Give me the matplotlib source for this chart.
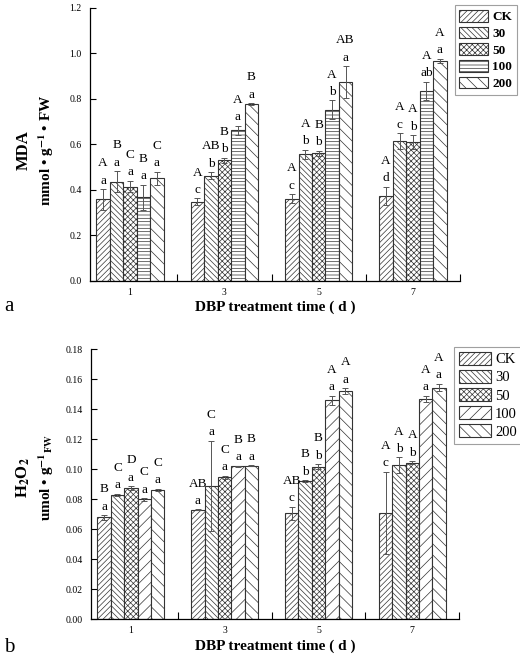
import numpy as np
import matplotlib.pyplot as plt
from matplotlib.ticker import FixedLocator

plt.rcParams['font.family'] = ['Liberation Serif', 'DejaVu Serif']
plt.rcParams['mathtext.fontset'] = 'stix'
plt.rcParams['hatch.linewidth'] = 0.5

# datos
days = ['1', '3', '5', '7']
treatments = ['CK', '30', '50', '100', '200']

mda_mean = [[0.358, 0.436, 0.414, 0.367, 0.450],
            [0.347, 0.462, 0.530, 0.662, 0.776],
            [0.360, 0.556, 0.560, 0.753, 0.873],
            [0.373, 0.613, 0.610, 0.835, 0.966]]
mda_err = [[0.045, 0.045, 0.025, 0.055, 0.030],
           [0.015, 0.015, 0.010, 0.020, 0.005],
           [0.020, 0.020, 0.012, 0.040, 0.070],
           [0.040, 0.035, 0.030, 0.040, 0.010]]
mda_low = [['a', 'a', 'a', 'a', 'a'],
           ['c', 'b', 'b', 'a', 'a'],
           ['c', 'b', 'b', 'b', 'a'],
           ['d', 'c', 'b', 'ab', 'a']]
mda_up = [['A', 'B', 'C', 'B', 'C'],
          ['A', 'AB', 'B', 'A', 'B'],
          ['A', 'A', 'B', 'A', 'AB'],
          ['A', 'A', 'A', 'A', 'A']]

h2o2_mean = [[0.068, 0.083, 0.0875, 0.080, 0.0864],
             [0.073, 0.089, 0.0948, 0.102, 0.1025],
             [0.0707, 0.0922, 0.1018, 0.146, 0.152],
             [0.071, 0.1029, 0.1044, 0.147, 0.1545]]
h2o2_err = [[0.0015, 0.0007, 0.0012, 0.0008, 0.0006],
            [0.0003, 0.030, 0.0010, 0.0002, 0.0002],
            [0.0045, 0.0005, 0.0015, 0.003, 0.002],
            [0.0273, 0.005, 0.0010, 0.002, 0.0025]]
h2o2_low = [['a', 'a', 'a', 'a', 'a'],
            ['a', 'a', 'a', 'a', 'a'],
            ['c', 'b', 'b', 'a', 'a'],
            ['c', 'b', 'b', 'a', 'a']]
h2o2_up = [['B', 'C', 'D', 'C', 'C'],
           ['AB', 'C', 'C', 'B', 'B'],
           ['AB', 'B', 'B', 'A', 'A'],
           ['A', 'A', 'A', 'A', 'A']]

x_pos = np.array([1, 3, 5, 7])
width = 0.285


def draw_panel(ax, mean, err, low, up, hatches, ymax, ystep, fmt, legend_bold, legend_size):
    mean = np.array(mean)
    err = np.array(err)
    for j, t in enumerate(treatments):
        xs = x_pos + (j - 2) * width
        ax.bar(xs, mean[:, j], width, facecolor='white', edgecolor='#333333',
               linewidth=0.8, hatch=hatches[j], label=t, zorder=2)
        ax.errorbar(xs, mean[:, j], yerr=err[:, j], fmt='none', ecolor='#555555',
                    elinewidth=0.7, capsize=2.5, capthick=0.7, zorder=3)
        for i in range(len(days)):
            top = mean[i, j] + err[i, j]
            ax.annotate(low[i][j], (xs[i], top), xytext=(0, 4), textcoords='offset points',
                        ha='center', va='baseline', fontsize=9.5)
            ax.annotate(up[i][j], (xs[i], top), xytext=(0, 16.5), textcoords='offset points',
                        ha='center', va='baseline', fontsize=9.5)
    ax.set_xlim(0.15, 8.0)
    ax.set_ylim(0, ymax)
    ax.set_yticks(np.arange(0, ymax + ystep / 2, ystep))
    ax.set_yticklabels([fmt.format(v) for v in np.arange(0, ymax + ystep / 2, ystep)])
    ax.set_xticks(x_pos)
    ax.set_xticklabels(days)
    ax.xaxis.set_minor_locator(FixedLocator([2, 4, 6, 8]))
    ax.tick_params(axis='x', which='major', length=0, labelsize=7, pad=5)
    ax.tick_params(axis='x', which='minor', direction='in', length=5, width=0.8)
    ax.tick_params(axis='y', direction='in', length=4, width=0.8, labelsize=7, pad=6)
    for s in ['top', 'right']:
        ax.spines[s].set_visible(False)
    for s in ['left', 'bottom']:
        ax.spines[s].set_linewidth(0.9)
    ax.set_xlabel('DBP treatment time ( d )', fontsize=11, fontweight='bold', labelpad=3)
    leg = ax.legend(loc='upper left', bbox_to_anchor=(0.985, 1.01), borderaxespad=0,
                    fancybox=False, edgecolor='#888888', handlelength=2.2, handleheight=1.0,
                    labelspacing=0.25, handletextpad=0.3, borderpad=0.35,
                    prop={'size': legend_size, 'weight': legend_bold})
    leg.get_frame().set_linewidth(0.8)


fig = plt.figure(figsize=(5.2, 6.59), dpi=100)
ax1 = fig.add_axes([0.173, 0.574, 0.712, 0.414])
ax2 = fig.add_axes([0.175, 0.060, 0.708, 0.410])

draw_panel(ax1, mda_mean, mda_err, mda_low, mda_up,
           ['//////', '\\\\\\\\\\\\', 'xxxxxx', '-----', '\\\\\\'],
           1.2, 0.2, '{:.1f}', 'bold', 9.5)
draw_panel(ax2, h2o2_mean, h2o2_err, h2o2_low, h2o2_up,
           ['//////', '\\\\\\\\\\\\', 'xxxxxx', '///', '\\\\\\'],
           0.18, 0.02, '{:.2f}', 'normal', 10.5)

# etiquetas del eje y
fig.text(0.045, 0.772, 'MDA', rotation=90, ha='center', va='center', fontsize=12, fontweight='bold')
fig.text(0.088, 0.772, r'mmol • g$^{\mathbf{-1}}$ • FW', rotation=90, ha='center', va='center',
         fontsize=11, fontweight='bold')
fig.text(0.045, 0.275, r'H$_{\mathbf{2}}$O$_{\mathbf{2}}$', rotation=90, ha='center', va='center',
         fontsize=12, fontweight='bold')
fig.text(0.088, 0.275, r'umol • g$^{\mathbf{-1}}$$_{\mathbf{FW}}$', rotation=90, ha='center', va='center',
         fontsize=11, fontweight='bold')

fig.text(0.008, 0.535, 'a', fontsize=15, ha='left', va='center')
fig.text(0.008, 0.017, 'b', fontsize=15, ha='left', va='center')

fig.savefig('out.png', dpi=100)
